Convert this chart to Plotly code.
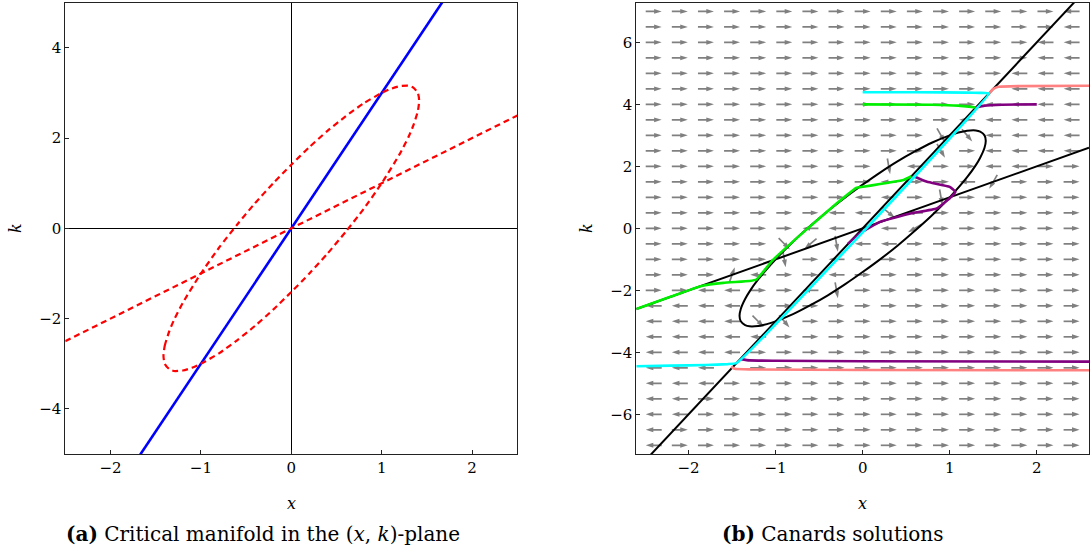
import math
import plotly.graph_objects as go

# ------------------------------------------------------------------ data
# critical manifold: ellipse branch, lines k = x and k = 3x
ellipse_x = [-1.414, -1.4, -1.35, -1.3, -1.2, -1.0, -0.8, -0.6, -0.4, -0.2, 0.0, 0.2, 0.4, 0.6, 0.8, 1.0,
             1.1, 1.2, 1.3, 1.35, 1.4, 1.414, 1.4, 1.35, 1.3, 1.2, 1.0, 0.8, 0.6, 0.4, 0.2, 0.0, -0.2, -0.4,
             -0.6, -0.8, -1.0, -1.1, -1.2, -1.3, -1.35, -1.4, -1.414]
ellipse_k = [-2.83, -2.6, -2.28, -2.04, -1.65, -1.0, -0.43, 0.08, 0.56, 1.0, 1.41, 1.8, 2.16, 2.48, 2.77, 3.0,
             3.09, 3.15, 3.16, 3.12, 3.0, 2.83, 2.6, 2.28, 2.04, 1.65, 1.0, 0.43, -0.08, -0.56, -1.0, -1.41, -1.8, -2.16,
             -2.48, -2.77, -3.0, -3.09, -3.15, -3.16, -3.12, -3.0, -2.83]
diag_x = [-2.6, 2.6]
diag_k = [-2.6, 2.6]
steep_x = [-2.6, 2.6]
steep_k = [-7.8, 7.8]

# canard trajectories (right panel)
cyan_x = [0.0, 0.6, 1.2, 1.35, 1.45, -1.45, -1.55, -1.8, -2.2, -2.6]
cyan_k = [4.39, 4.39, 4.38, 4.37, 4.35, -4.35, -4.38, -4.41, -4.43, -4.45]
salmon_top_x = [1.45, 1.5, 1.56, 1.8, 2.6]
salmon_top_k = [4.35, 4.5, 4.57, 4.59, 4.6]
salmon_bot_x = [-1.51, -1.47, -1.3, 0.0, 2.6]
salmon_bot_k = [-4.46, -4.53, -4.55, -4.57, -4.58]
purple_top_x = [1.3, 1.4, 1.6, 2.0]
purple_top_k = [3.9, 3.96, 3.99, 4.0]
purple_bot_x = [-1.4, -1.3, -1.0, 0.0, 2.6]
purple_bot_k = [-4.22, -4.26, -4.27, -4.29, -4.30]
purple_mid_x = [-0.17, -0.03, 0.2, 0.55, 0.85, 1.0, 1.065, 1.0, 0.74, 0.58]
purple_mid_k = [-0.5, -0.16, 0.21, 0.48, 0.64, 0.97, 1.18, 1.34, 1.5, 1.69]
green_top_x = [0.0, 0.8, 1.1, 1.3]
green_top_k = [4.0, 3.99, 3.96, 3.9]
green_main_x = [-2.6, -2.2, -1.85, -1.6, -1.3, -1.22, -1.03, -0.65, -0.3, -0.07, 0.0, 0.47, 0.56]
green_main_k = [-2.6, -2.2, -1.86, -1.76, -1.7, -1.65, -1.02, -0.05, 0.8, 1.31, 1.34, 1.56, 1.68]

# direction field: grid + arrow direction per cell (R = right, L = left, . = special)
x_grid = [-2.4, -2.1, -1.8, -1.5, -1.2, -0.9, -0.6, -0.3, 0.0, 0.3, 0.6, 0.9, 1.2, 1.5, 1.8, 2.1, 2.4]
k_grid = [7.0, 6.5, 6.0, 5.5, 5.0, 4.5, 4.0, 3.5, 3.0, 2.5, 2.0, 1.5, 1.0, 0.5, 0.0,
          -0.5, -1.0, -1.5, -2.0, -2.5, -3.0, -3.5, -4.0, -4.5, -5.0, -5.5, -6.0, -6.5, -7.0]
arrow_rows = [
    "RRRRRRRRRRRRRRRRL",
    "RRRRRRRRRRRRRRRRL",
    "RRRRRRRRRRRRRRRLL",
    "RRRRRRRRRRRRRRRLL",
    "RRRRRRRRRRRRRRLLL",
    "RRRRRRRRRRRRR.LLL",
    "RRRRRRRRRRRRRLLLL",
    "RRRRRRRRRRRRLLLLL",
    "RRRRRRRRRRRRRLLLL",
    "RRRRRRRRRRRRRLLLL",
    "RRRRRRRRRRLRRLLRR",
    "RRRRRRRRRLRRL.RRR",
    "RRRRRRRRLLRRRRRRR",
    "RRRRRRRLLRLRRRRRR",
    "RRRRRRLL.LLRRRRRR",
    "RRRRRRLRLLRRRRRRR",
    "RRRRRRRLLRRRRRRRR",
    "RRR.LRRLRRRRRRRRR",
    "RRLLRRLRRRRRRRRRR",
    "LLLLRRRRRRRRRRRRR",
    "LLLLRRRRRRRRRRRRR",
    "LLLLLRRRRRRRRRRRR",
    "LLLLRRRRRRRRRRRRR",
    "LLL.RRRRRRRRRRRRR",
    "LLLRRRRRRRRRRRRRR",
    "LLRRRRRRRRRRRRRRR",
    "LLRRRRRRRRRRRRRRR",
    "LRRRRRRRRRRRRRRRR",
    "LRRRRRRRRRRRRRRRR",
]
# arrows that are visibly tilted near the critical manifold: (row, col) -> screen angle (deg, ccw from +x)
tilted = {
    (8, 11): -60, (8, 12): -50, (9, 11): -60,
    (20, 5): -50, (20, 4): -45,
    (16, 5): -80, (12, 11): -80,
    (15, 5): -45, (15, 6): -140, (15, 7): -80,
    (18, 7): -80, (10, 9): -80,
    (13, 9): -40, (14, 10): -150,
    (11, 13): -120, (17, 3): 70,
}

x_ticks = [-2, -1, 0, 1, 2]
k_ticks_left = [-4, -2, 0, 2, 4]
k_ticks_right = [-6, -4, -2, 0, 2, 4, 6]

# ------------------------------------------------------------------ layout geometry
W, H = 1090, 550
L_dom = [65.3 / W, 517.3 / W]
R_dom = [636.3 / W, 1089.0 / W]
Y_dom = [1 - 454.0 / H, 1 - 2.7 / H]
xr_left, kr_left = [-2.5, 2.5], [-5.0, 5.0]
xr_right, kr_right = [-2.6, 2.6], [-7.28, 7.28]

sx = (R_dom[1] - R_dom[0]) * W / (xr_right[1] - xr_right[0])
sy = (Y_dom[1] - Y_dom[0]) * H / (kr_right[1] - kr_right[0])

ARROW_LEN = 16.0   # px
HEAD_LEN = 7.0     # px
GRAY = "#808080"

shaft_x, shaft_k = [], []
head_x, head_k, head_ang = [], [], []
for r, kv in enumerate(k_grid):
    for c, xv in enumerate(x_grid):
        ch = arrow_rows[r][c]
        if (r, c) in tilted:
            th = tilted[(r, c)]
        elif ch == "R":
            th = 0.0
        elif ch == "L":
            th = 180.0
        else:
            continue
        cs, sn = math.cos(math.radians(th)), math.sin(math.radians(th))
        hx, hk = cs * ARROW_LEN / 2 / sx, sn * ARROW_LEN / 2 / sy
        bx = cs * (ARROW_LEN / 2 - HEAD_LEN + 1) / sx
        bk = sn * (ARROW_LEN / 2 - HEAD_LEN + 1) / sy
        shaft_x += [xv - hx, xv + bx, None]
        shaft_k += [kv - hk, kv + bk, None]
        head_x.append(xv + hx)
        head_k.append(kv + hk)
        head_ang.append(90 - th)

fig = go.Figure()

# ---- left panel
fig.add_trace(go.Scatter(x=steep_x, y=steep_k, mode="lines", line=dict(color="#0000ff", width=2.6),
                         xaxis="x", yaxis="y", hoverinfo="skip"))
fig.add_trace(go.Scatter(x=diag_x, y=diag_k, mode="lines", line=dict(color="#ff0000", width=2.2, dash="6px,4px"),
                         xaxis="x", yaxis="y", hoverinfo="skip"))
fig.add_trace(go.Scatter(x=ellipse_x, y=ellipse_k, mode="lines",
                         line=dict(color="#ff0000", width=2.2, dash="6px,4px", shape="spline", smoothing=0.6),
                         xaxis="x", yaxis="y", hoverinfo="skip"))

# ---- right panel
fig.add_trace(go.Scatter(x=shaft_x, y=shaft_k, mode="lines", line=dict(color=GRAY, width=1.7),
                         xaxis="x2", yaxis="y2", hoverinfo="skip"))
fig.add_trace(go.Scatter(x=head_x, y=head_k, mode="markers",
                         marker=dict(symbol="arrow", size=8, angle=head_ang, color=GRAY, line=dict(width=0)),
                         xaxis="x2", yaxis="y2", hoverinfo="skip"))
for xs, ks in [(steep_x, steep_k), (diag_x, diag_k)]:
    fig.add_trace(go.Scatter(x=xs, y=ks, mode="lines", line=dict(color="black", width=2),
                             xaxis="x2", yaxis="y2", hoverinfo="skip"))
fig.add_trace(go.Scatter(x=ellipse_x, y=ellipse_k, mode="lines",
                         line=dict(color="black", width=2, shape="spline", smoothing=0.6),
                         xaxis="x2", yaxis="y2", hoverinfo="skip"))

curves = [
    (green_main_x, green_main_k, "#00ee00"),
    (green_top_x, green_top_k, "#00ee00"),
    (purple_mid_x, purple_mid_k, "#800080"),
    (purple_top_x, purple_top_k, "#800080"),
    (purple_bot_x, purple_bot_k, "#800080"),
    (salmon_top_x, salmon_top_k, "#ff8080"),
    (salmon_bot_x, salmon_bot_k, "#ff8080"),
    (cyan_x, cyan_k, "#00ffff"),
]
for xs, ks, col in curves:
    fig.add_trace(go.Scatter(x=xs, y=ks, mode="lines", line=dict(color=col, width=2.6, shape="spline", smoothing=0.3),
                             xaxis="x2", yaxis="y2", hoverinfo="skip"))

FONT = "DejaVu Serif"
tickfont = dict(family=FONT, size=15, color="black")
axis_common = dict(showline=True, mirror=True, linecolor="#222", linewidth=1, ticks="inside", ticklen=4,
                   tickcolor="#222", showgrid=False, tickfont=tickfont, fixedrange=True)

fig.update_layout(
    width=W, height=H, margin=dict(l=0, r=0, t=0, b=0),
    paper_bgcolor="white", plot_bgcolor="white", showlegend=False,
    xaxis=dict(domain=L_dom, range=xr_left, tickvals=x_ticks, anchor="y",
               zeroline=True, zerolinecolor="black", zerolinewidth=1, **axis_common),
    yaxis=dict(domain=Y_dom, range=kr_left, tickvals=k_ticks_left, anchor="x",
               zeroline=True, zerolinecolor="black", zerolinewidth=1, **axis_common),
    xaxis2=dict(domain=R_dom, range=xr_right, tickvals=x_ticks, anchor="y2", zeroline=False, **axis_common),
    yaxis2=dict(domain=Y_dom, range=kr_right, tickvals=k_ticks_right, anchor="x2", zeroline=False, **axis_common),
)

ann_font = dict(family=FONT, size=16, color="black")
cap_font = dict(family=FONT, size=20, color="black")


def label(text, px, py, font, angle=0):
    fig.add_annotation(text=text, x=px / W, y=1 - py / H, xref="paper", yref="paper", showarrow=False,
                       xanchor="center", yanchor="middle", font=font, textangle=angle)


label("<i>x</i>", 291.3, 503, ann_font)
label("<i>x</i>", 862.7, 503, ann_font)
label("<i>k</i>", 15, 228, ann_font, -90)
label("<i>k</i>", 586, 228, ann_font, -90)
label("<b>(a)</b> Critical manifold in the (<i>x</i>, <i>k</i>)-plane", 263, 534, cap_font)
label("<b>(b)</b> Canards solutions", 833, 534, cap_font)

fig.write_html("out.html", config={"displayModeBar": False, "staticPlot": True},
               post_script="document.body.style.margin='0';document.body.style.overflow='hidden';")
